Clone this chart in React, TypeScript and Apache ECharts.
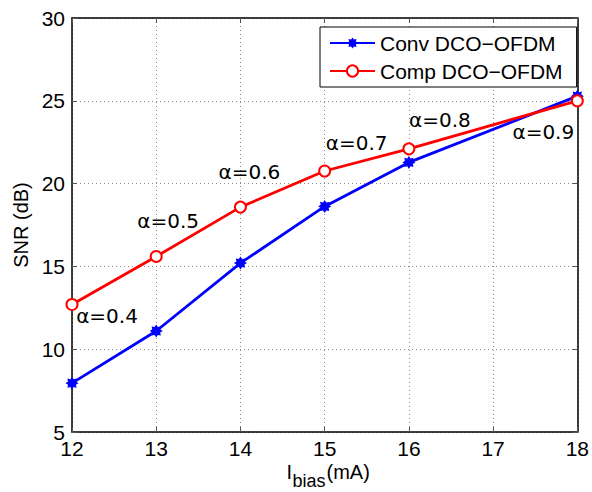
import React, { useEffect, useRef } from "react";
import * as echarts from "echarts";

const biasCurrents = [12, 13, 14, 15, 16, 18];
const convSNR = [7.95, 11.1, 15.2, 18.62, 21.28, 25.28];
const compSNR = [12.7, 15.6, 18.58, 20.76, 22.1, 25.0];
const alphaLabels = ["α=0.4", "α=0.5", "α=0.6", "α=0.7", "α=0.8", "α=0.9"];
const alphaOffsets: [number, number][] = [
  [35, 12],
  [12, -35],
  [9, -35],
  [32, -28],
  [31, -29],
  [-34, 31],
];
const xTicks = { min: 12, max: 18, interval: 1 };
const yTicks = { min: 5, max: 30, interval: 5 };

const FONT = "'Liberation Sans', Arial, Helvetica, sans-serif";

const starPath =
  "path://M5,0 L3.05,1.26 L3.54,3.54 L1.26,3.05 L0,5 L-1.26,3.05 L-3.54,3.54 L-3.05,1.26 L-5,0 L-3.05,-1.26 L-3.54,-3.54 L-1.26,-3.05 L0,-5 L1.26,-3.05 L3.54,-3.54 L3.05,-1.26 Z";

export default function App() {
  const ref = useRef<HTMLDivElement>(null);
  useEffect(() => {
    if (!ref.current) return;
    const chart = echarts.init(ref.current, undefined, { renderer: "svg" });
    const axisLine = { show: true, onZero: false, lineStyle: { color: "#000", width: 1.5 } };
    const axisTick = { show: true, inside: true, length: 5, lineStyle: { color: "#555", width: 1 } };
    const splitLine = { show: true, lineStyle: { color: "#8a8a8a", type: [1, 3], width: 1 } };
    const option: any = {
      animation: false,
      backgroundColor: "#fff",
      textStyle: { fontFamily: FONT },
      grid: { left: 72, right: 9.5, top: 18, bottom: 60 },
      legend: {
        orient: "vertical",
        left: 320,
        top: 27,
        padding: [5, 14, 5, 9],
        itemWidth: 45,
        itemHeight: 14,
        itemGap: 6,
        backgroundColor: "#fff",
        borderColor: "#000",
        borderWidth: 1,
        textStyle: { fontSize: 21, color: "#000", fontFamily: FONT, lineHeight: 22 },
        data: ["Conv DCO−OFDM", "Comp DCO−OFDM"],
      },
      xAxis: [
        {
          type: "value",
          position: "bottom",
          ...xTicks,
          axisLine,
          axisTick,
          splitLine,
          axisLabel: { fontSize: 21, color: "#000", margin: 8, lineHeight: 16, fontFamily: FONT },
        },
        {
          type: "value",
          position: "top",
          ...xTicks,
          axisLine,
          axisTick,
          splitLine: { show: false },
          axisLabel: { show: false },
        },
      ],
      yAxis: [
        {
          type: "value",
          position: "left",
          ...yTicks,
          axisLine,
          axisTick,
          splitLine,
          axisLabel: { fontSize: 21, color: "#000", margin: 7, lineHeight: 16, fontFamily: FONT },
          name: "SNR (dB)",
          nameLocation: "middle",
          nameGap: 40,
          nameTextStyle: { fontSize: 20, color: "#000", fontFamily: FONT },
        },
        {
          type: "value",
          position: "right",
          ...yTicks,
          axisLine,
          axisTick,
          splitLine: { show: false },
          axisLabel: { show: false },
        },
      ],
      graphic: [
        {
          type: "text",
          x: 286.5,
          y: 472,
          style: { text: "I", fontSize: 20, fontFamily: FONT, fill: "#000", verticalAlign: "middle", align: "left" },
        },
        {
          type: "text",
          x: 292.5,
          y: 481,
          style: { text: "bias", fontSize: 18, fontFamily: FONT, fill: "#000", verticalAlign: "middle", align: "left" },
        },
        {
          type: "text",
          x: 326.5,
          y: 472,
          style: { text: "(mA)", fontSize: 20, fontFamily: FONT, fill: "#000", verticalAlign: "middle", align: "left" },
        },
      ],
      series: [
        {
          name: "Conv DCO−OFDM",
          type: "line",
          xAxisIndex: 0,
          yAxisIndex: 0,
          data: biasCurrents.map((x, i) => [x, convSNR[i]]),
          symbol: starPath,
          symbolSize: 13,
          color: "#0000ff",
          itemStyle: { color: "#0000ff" },
          lineStyle: { color: "#0000ff", width: 2.8 },
          z: 3,
        },
        {
          name: "Comp DCO−OFDM",
          type: "line",
          xAxisIndex: 0,
          yAxisIndex: 0,
          data: biasCurrents.map((x, i) => ({
            value: [x, compSNR[i]],
            label: {
              show: true,
              position: "inside",
              formatter: alphaLabels[i],
              offset: alphaOffsets[i],
            },
          })),
          symbol: "emptyCircle",
          symbolSize: 11,
          color: "#ff0000",
          itemStyle: { color: "#ff0000", borderColor: "#ff0000", borderWidth: 2.5 },
          lineStyle: { color: "#ff0000", width: 2.8 },
          label: {
            fontSize: 20,
            color: "#000",
            fontFamily: "'DejaVu Sans', sans-serif",
            align: "center",
            verticalAlign: "middle",
          },
          z: 4,
        },
      ],
    };
    chart.setOption(option);
    return () => chart.dispose();
  }, []);
  return (
    <div
      ref={ref}
      style={{ position: "absolute", left: 0, top: 0, width: 592, height: 492, background: "#fff" }}
    />
  );
}
